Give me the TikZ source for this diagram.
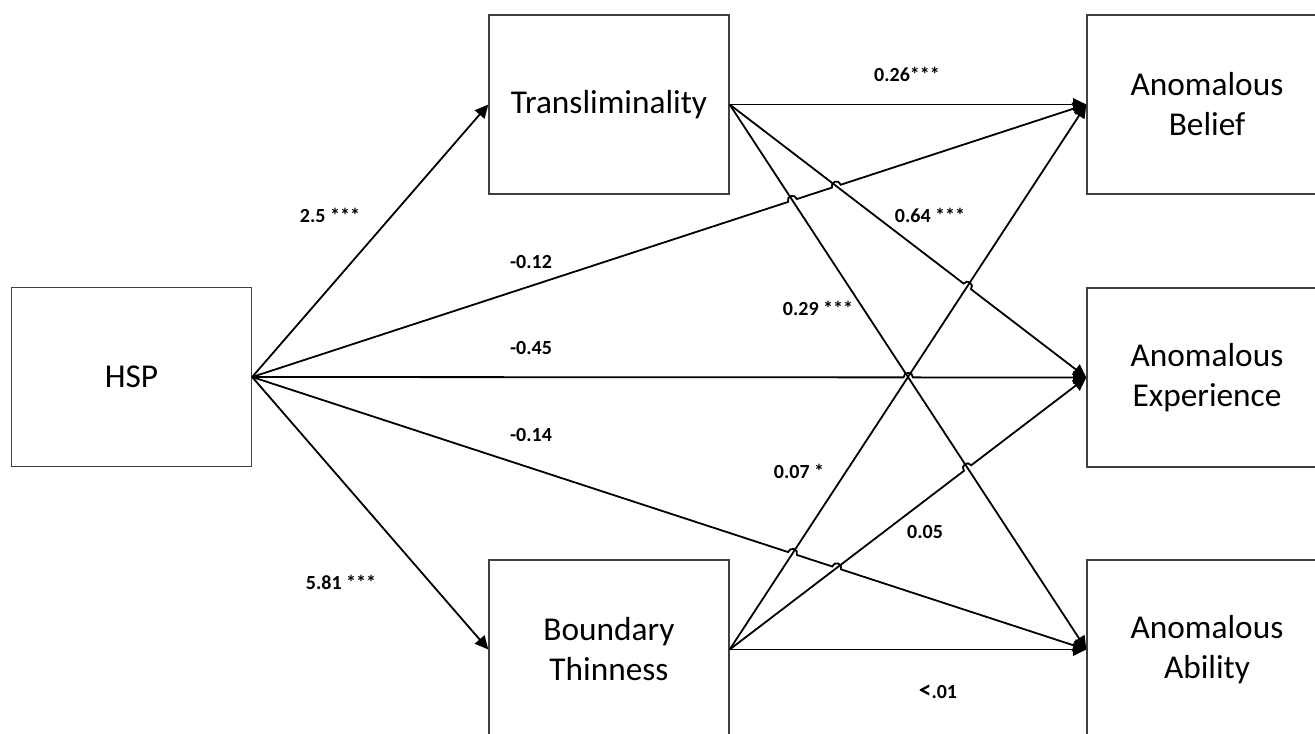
\documentclass[tikz,border=0pt]{standalone}
\usepackage{fontspec}
\setmainfont{Carlito}
\usetikzlibrary{arrows.meta,intersections,calc}
\begin{document}
\begin{tikzpicture}[x=0.75pt,y=-0.75pt,
  box/.style={draw=black!75,line width=1pt,fill=white,minimum width=180pt,minimum height=134.25pt,inner sep=0pt,align=center,font=\fontsize{25}{30}\selectfont},
  lbl/.style={font=\fontsize{15}{18}\selectfont\bfseries,inner sep=0pt},
  conn/.style={line width=1.35pt},
  arr/.style={conn,-{Triangle[length=10pt,width=9.5pt]}},
  hop/.style={bend left=90,looseness=1.7}
]
\def\hr{3.5pt}
\useasboundingbox (0,0) rectangle (1315,734);
\fill[white] (0,0) rectangle (1315,734);
\clip (0,0) rectangle (1315,734);

% boxes
\node[box] (hsp) at (131.5,377) {HSP};
\node[box] (tr)  at (609,104.5) {Transliminality};
\node[box] (bt)  at (609,649.5) {Boundary\\Thinness};
\node[box] (bel) at (1207,104.5) {Anomalous\\Belief};
\node[box] (exp) at (1207,377.5) {Anomalous\\Experience};
\node[box] (abl) at (1207,649.5) {Anomalous\\Ability};

% helper paths for crossings
\path[name path=hbel] (hsp.east) -- (bel.west);
\path[name path=hex]  (hsp.east) -- (exp.west);
\path[name path=hab]  (hsp.east) -- (abl.west);
\path[name path=tex]  (tr.east) -- (exp.west);
\path[name path=tab]  (tr.east) -- (abl.west);
\path[name path=bbel] (bt.east) -- (bel.west);
\path[name path=bex]  (bt.east) -- (exp.west);

\path[name intersections={of=hbel and tab,by=c1}];
\path[name intersections={of=hbel and tex,by=c2}];
\path[name intersections={of=tex and bbel,by=c3}];
\path[name intersections={of=hex and tab,by=c4}];
\path[name intersections={of=tab and bex,by=c5}];
\path[name intersections={of=hab and bbel,by=c6}];
\path[name intersections={of=hab and bex,by=c7}];

% connectors
\draw[arr] (hsp.east) -- (tr.west);
\draw[arr] (hsp.east) -- (bt.west);
\draw[arr] (hsp.east) -- ($(c1)!\hr!(hsp.east)$) to[hop] ($(c1)!\hr!(bel.west)$)
  -- ($(c2)!\hr!(hsp.east)$) to[hop] ($(c2)!\hr!(bel.west)$) -- (bel.west);
\draw[arr] (hsp.east) -- ($(c4)!\hr!(hsp.east)$) to[hop] ($(c4)!\hr!(exp.west)$) -- (exp.west);
\draw[arr] (hsp.east) -- ($(c6)!\hr!(hsp.east)$) to[hop] ($(c6)!\hr!(abl.west)$)
  -- ($(c7)!\hr!(hsp.east)$) to[hop] ($(c7)!\hr!(abl.west)$) -- (abl.west);
\draw[arr] (tr.east) -- (bel.west);
\draw[arr] (tr.east) -- ($(c3)!\hr!(tr.east)$) to[hop] ($(c3)!\hr!(exp.west)$) -- (exp.west);
\draw[arr] (tr.east) -- (abl.west);
\draw[arr] (bt.east) -- (bel.west);
\draw[arr] (bt.east) -- ($(c5)!\hr!(bt.east)$) to[hop] ($(c5)!\hr!(exp.west)$) -- (exp.west);
\draw[arr] (bt.east) -- (abl.west);

% labels
\node[lbl] (l1)  at (330,215) {2.5 ***};
\node[lbl] (l2)  at (341,582) {5.81 ***};
\node[lbl] (l3)  at (531,262) {-0.12};
\node[lbl] (l4)  at (531,348) {-0.45};
\node[lbl] (l5)  at (531,435) {-0.14};
\node[lbl] (l6)  at (907,74)  {0.26***};
\node[lbl] (l7)  at (930,215) {0.64 ***};
\node[lbl] (l8)  at (818,308) {0.29 ***};
\node[lbl] (l9)  at (799,471) {0.07 *};
\node[lbl] (l10) at (925,532) {0.05};
\node[lbl] (l11) at (938,692) {{\fontsize{19}{18}\selectfont<}.01};
\end{tikzpicture}
\end{document}
